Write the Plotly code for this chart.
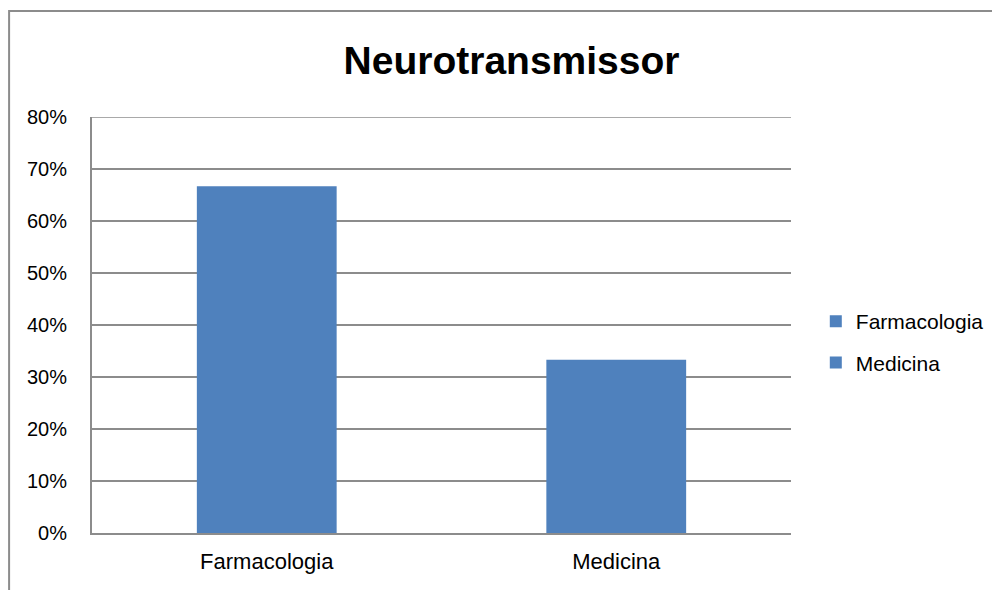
import plotly.graph_objects as go

# data
categories = ["Farmacologia", "Medicina"]
values = [0.6667, 0.3333]
bar_color = "#4f81bd"
y_max = 0.8

FONT = "Liberation Sans, Arial, sans-serif"
GRID = "#8c8c8c"

fig = go.Figure()
for i, (cat, val) in enumerate(zip(categories, values)):
    fig.add_trace(
        go.Bar(
            x=[cat],
            y=[val],
            name=cat,
            legendgroup=f"g{i}",
            marker_color=bar_color,
            marker_line_width=0,
        )
    )

# the page body has an 8px margin, so the figure is made 8px smaller and
# everything shifted up/left by 8px to fit the 1000x590 window
fig.update_layout(
    width=992,
    height=582,
    barmode="overlay",
    bargap=0.6,
    margin=dict(l=84, r=208, t=109, b=57),
    paper_bgcolor="white",
    plot_bgcolor="white",
    font=dict(family=FONT, size=22, color="black"),
    title=dict(
        text="<b>Neurotransmissor</b>",
        x=0.5076,
        xanchor="center",
        y=0.9107,
        yanchor="middle",
        font=dict(family=FONT, size=39, color="black"),
    ),
    legend=dict(
        x=1.034,
        xanchor="left",
        y=0.459,
        yanchor="middle",
        font=dict(family=FONT, size=21, color="black"),
        tracegroupgap=11,
        itemwidth=30,
    ),
    showlegend=True,
)

fig.update_yaxes(
    range=[0, y_max],
    dtick=0.1,
    tickformat=".0%",
    tickfont=dict(size=20),
    showgrid=True,
    gridcolor=GRID,
    gridwidth=1.5,
    showline=True,
    linecolor=GRID,
    linewidth=2,
    zeroline=False,
    ticks="",
    ticklabelstandoff=19,
)
fig.update_xaxes(
    showline=True,
    linecolor=GRID,
    linewidth=2,
    ticks="",
    tickfont=dict(size=22),
    ticklabelstandoff=8,
)

# top gridline (plotly drops the one sitting on the plot edge)
fig.add_shape(
    type="line",
    xref="paper",
    yref="y",
    x0=0,
    x1=1,
    y0=y_max,
    y1=y_max,
    line=dict(color=GRID, width=1.5),
    layer="below",
)

# outer chart border (cut off at right and bottom in the reference)
fig.add_shape(
    type="rect",
    xref="paper",
    yref="paper",
    x0=-0.1186,
    x1=1.31,
    y0=-0.17,
    y1=1.2548,
    line=dict(color=GRID, width=2),
    layer="below",
)

fig.write_html("out.html")
